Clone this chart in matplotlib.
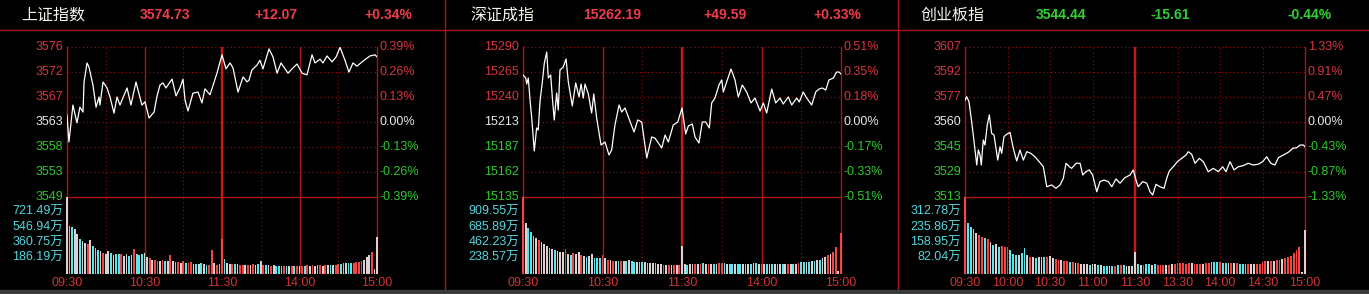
import numpy as np
import matplotlib
matplotlib.use("Agg")
import matplotlib.pyplot as plt
from matplotlib.patches import Rectangle

W, H = 1369, 294

# ---------------- data ----------------
names = ["上证指数", "深证成指", "创业板指"]
last_prices = ["3574.73", "15262.19", "3544.44"]
changes = ["+12.07", "+49.59", "-15.61"]
change_pcts = ["+0.34%", "+0.33%", "-0.44%"]
pre_close = [3562.66, 15212.60, 3560.05]
range_pct = [0.39, 0.51, 1.33]

price_labels = [
    ["3576", "3572", "3567", "3563", "3558", "3553", "3549"],
    ["15290", "15265", "15240", "15213", "15187", "15162", "15135"],
    ["3607", "3592", "3577", "3560", "3545", "3529", "3513"],
]
pct_labels = [
    ["0.39%", "0.26%", "0.13%", "0.00%", "-0.13%", "-0.26%", "-0.39%"],
    ["0.51%", "0.35%", "0.18%", "0.00%", "-0.17%", "-0.33%", "-0.51%"],
    ["1.33%", "0.91%", "0.47%", "0.00%", "-0.43%", "-0.87%", "-1.33%"],
]
vol_labels = [
    ["721.49万", "546.94万", "360.75万", "186.19万"],
    ["909.55万", "685.89万", "462.23万", "238.57万"],
    ["312.78万", "235.86万", "158.95万", "82.04万"],
]
vol_range = [(7.8, 899.9), (14.9, 1133.2), (5.1, 389.7)]

time_labels = [
    ["09:30", "10:30", "11:30", "14:00", "15:00"],
    ["09:30", "10:30", "11:30", "14:00", "15:00"],
    ["09:30", "10:00", "10:30", "11:00", "11:30", "13:30", "14:00", "14:30", "15:00"],
]
time_label_min = [
    [0, 60, 120, 180, 240],
    [0, 60, 120, 180, 240],
    [0, 30, 60, 90, 120, 150, 180, 210, 240],
]

# minutes since 09:30 (trading minutes) and index level
t1 = [0, 1.5, 4.6, 7.7, 10, 12.4, 13.2, 15.5, 17, 20.1, 22.5, 24.8, 25.5, 27.9, 31, 33.3, 36.4, 38.7, 41, 46.5,
      49.5, 53.4, 58, 60.4, 63.5, 67.4, 69.7, 72, 74.3, 76.6, 81.3, 84.4, 87.5, 89.8, 91.4, 93.7, 97.5, 101.4,
      104.5, 106.8, 110.7, 116.1, 120, 123.1, 126.2, 128.5, 132.4, 136.3, 139.4, 140.9, 143.2, 147.1, 149.4,
      151.7, 156.4, 159.5, 162.6, 165.7, 171.1, 175, 178.1, 182, 185.8, 189.7, 192, 195.9, 198.2, 201.3, 205.2,
      208.3, 211.4, 215.2, 218.3, 221.4, 224.5, 229.2, 234.6, 238.5, 240]
p1 = [3563.96, 3558.96, 3565.8, 3562.5, 3565.4, 3564.5, 3570.07, 3573.6, 3572.85, 3569.5, 3565.4, 3567.3,
      3565.8, 3570.07, 3568.96, 3567.3, 3564.3, 3567.3, 3565.8, 3568.96, 3565.8, 3570.07, 3565.8, 3566.4,
      3563.4, 3564.5, 3567.5, 3569.5, 3569.9, 3568.96, 3570.6, 3567.5, 3569.0, 3570.6, 3566.7, 3564.7, 3568.0,
      3568.2, 3566.2, 3568.8, 3567.7, 3571.7, 3575.1, 3572.5, 3573.6, 3572.7, 3568.2, 3571.0, 3570.1, 3570.4,
      3572.3, 3573.2, 3574.1, 3572.5, 3576.2, 3574.7, 3571.7, 3573.6, 3571.7, 3572.7, 3573.4, 3571.7, 3571.4,
      3575.1, 3573.6, 3574.3, 3573.6, 3574.9, 3573.8, 3574.7, 3576.5, 3574.1, 3571.9, 3573.6, 3573.0, 3573.95,
      3574.9, 3575.1, 3574.73]

t2 = [0, 2, 2.8, 4, 5.3, 6.6, 8.5, 10.3, 11.5, 12.8, 14.6, 16.1, 17.9, 19.1, 20.9, 22.4, 23.6, 25.4, 26.6, 27.9,
      30.4, 32.5, 34.2, 37.2, 39.8, 42.3, 43.8, 45.5, 46.8, 49.3, 51.8, 53.4, 55.6, 58.9, 61.9, 64.9, 66.9, 69.4,
      72.5, 74.5, 77, 79.5, 83.8, 86.6, 89.6, 93.4, 97.1, 99.6, 104.7, 107.2, 109.7, 113.4, 116.8, 120, 122.8,
      124.8, 127.8, 129.8, 132.8, 135.3, 137.9, 140.6, 142.4, 144.9, 147.9, 150, 151.2, 153.7, 157, 160, 162.5,
      165.5, 168.8, 172.1, 175.1, 178.9, 181.4, 183.9, 187.7, 190.7, 194, 196.4, 200.2, 202.8, 206.6, 208.5,
      211.5, 214.1, 217.9, 220.9, 223.4, 225.9, 228.5, 230.9, 234.2, 236.7, 238.5, 240]
p2 = [15261.2, 15258.4, 15251.9, 15258.1, 15235.4, 15216.7, 15182.6, 15206.4, 15204.3, 15233.3, 15254.0,
      15273.6, 15285.0, 15258.1, 15261.2, 15233.3, 15214.7, 15242.6, 15225.0, 15266.4, 15269.5, 15277.8,
      15254.0, 15229.2, 15253.0, 15238.5, 15251.9, 15237.4, 15251.9, 15241.6, 15221.9, 15241.6, 15216.7,
      15188.8, 15191.9, 15178.5, 15183.6, 15209.5, 15230.2, 15222.9, 15227.1, 15217.8, 15202.3, 15214.7,
      15212.6, 15175.4, 15197.1, 15196.0, 15185.7, 15199.1, 15191.9, 15209.5, 15212.6, 15227.1, 15200.2,
      15208.5, 15210.5, 15197.1, 15190.9, 15212.6, 15212.6, 15206.4, 15232.3, 15237.4, 15250.9, 15256.1,
      15243.6, 15254.0, 15267.4, 15256.1, 15238.5, 15250.9, 15243.6, 15232.3, 15237.4, 15224.0, 15232.3,
      15221.9, 15246.7, 15232.3, 15237.4, 15231.2, 15238.5, 15230.2, 15237.4, 15233.3, 15243.6, 15237.4,
      15230.2, 15243.6, 15246.7, 15247.8, 15245.7, 15256.1, 15258.1, 15264.3, 15264.3, 15262.19]

t3 = [0, 1.2, 2.8, 4.7, 6.4, 8.3, 9.4, 10.6, 11.5, 12.9, 14.1, 15.7, 17.2, 18.8, 20.5, 23.1, 24.7, 25.9, 27.5,
      29.4, 31.8, 34.1, 36.5, 38.8, 41.2, 43.6, 46.4, 49.4, 52.4, 55.3, 57.7, 61.2, 64.2, 67.1, 69.4, 71.3, 73.6,
      75.3, 78.4, 81.2, 83.1, 85.4, 87.7, 90.1, 93.0, 95.3, 98.1, 101.2, 103.6, 106.6, 109.4, 112.9, 116.5,
      118.8, 120.7, 122.3, 125.4, 128.3, 130.6, 132.5, 134.8, 137.6, 140.5, 142.4, 144.2, 147.0, 149.9, 153.0,
      156.0, 157.6, 160.0, 162.4, 165.4, 168.2, 171.7, 175.3, 178.8, 181.9, 184.2, 187.1, 189.9, 192.9, 196.4,
      199.9, 203.5, 207.0, 210.1, 213.0, 215.8, 218.8, 221.2, 224.7, 228.2, 231.3, 234.1, 236.5, 238.9, 240]
p3 = [3573.9, 3576.0, 3572.9, 3560.2, 3547.6, 3532.9, 3542.4, 3539.2, 3532.9, 3548.7, 3545.5, 3558.2, 3564.5,
      3552.9, 3551.8, 3536.0, 3544.4, 3540.3, 3550.8, 3552.3, 3553.5, 3543.4, 3535.4, 3542.4, 3536.0, 3541.3,
      3540.3, 3538.1, 3535.0, 3531.8, 3519.2, 3520.3, 3518.2, 3520.3, 3524.5, 3534.0, 3531.8, 3530.8, 3534.0,
      3534.0, 3526.6, 3528.7, 3529.8, 3526.6, 3516.0, 3522.4, 3523.4, 3522.4, 3519.2, 3524.1, 3521.4, 3524.9,
      3526.6, 3529.8, 3523.4, 3519.2, 3522.4, 3521.4, 3516.0, 3514.0, 3520.7, 3519.2, 3518.2, 3524.5, 3529.1,
      3531.8, 3535.0, 3537.1, 3539.2, 3541.3, 3539.7, 3534.0, 3537.1, 3535.0, 3528.7, 3530.8, 3528.7, 3531.8,
      3528.7, 3535.0, 3529.8, 3531.8, 3532.5, 3534.0, 3532.9, 3533.4, 3535.0, 3538.1, 3534.0, 3532.9, 3537.5,
      3539.2, 3540.9, 3543.4, 3543.8, 3545.5, 3545.5, 3544.44]

# volume (万手) every 2 trading minutes, 09:30 .. 15:00
vol_minutes = list(range(0, 241, 2))
v1 = [900, 560, 550, 520, 470, 410, 380, 360, 350, 390,
      330, 300, 275, 262, 245, 230, 268, 240, 222, 230,
      235, 225, 205, 225, 210, 220, 295, 230, 220, 225,
      240, 200, 180, 165, 155, 150, 148, 155, 150, 148,
      215, 150, 140, 135, 130, 150, 125, 120, 135, 115,
      112, 115, 120, 110, 105, 100, 280, 125, 100, 110,
      410, 170, 120, 115, 110, 112, 118, 105, 100, 100,
      98, 105, 108, 102, 110, 145, 100, 98, 100, 95,
      98, 95, 90, 92, 90, 88, 92, 90, 88, 90,
      92, 90, 95, 100, 95, 98, 95, 100, 98, 92,
      98, 102, 100, 105, 100, 115, 118, 120, 125, 128,
      130, 128, 135, 140, 148, 160, 200, 220, 260, 60,
      430]
c1 = ("wccwwcwwrw" "cccwrwwcwc" "crwwcwrccc" "wwrwrrwrcw" "rwcrwrcrrw" "cwcwcrrwrc"
      "rcwwrcwrrw" "rwrwcwrcwr" "wcccrcwrcr" "wrcrwrwcrw" "rwcwrrccwc" "crrrrwwwrw" "w")
v2 = [1128, 745, 670, 620, 560, 530, 500, 465, 440, 410,
      385, 362, 353, 340, 330, 320, 362, 290, 280, 312,
      300, 328, 280, 265, 255, 260, 294, 231, 235, 240,
      280, 230, 206, 200, 196, 192, 195, 192, 195, 190,
      200, 185, 180, 175, 178, 172, 170, 168, 162, 158,
      155, 150, 140, 135, 138, 133, 130, 135, 132, 128,
      412, 150, 135, 140, 145, 148, 145, 150, 155, 145,
      148, 150, 145, 150, 155, 160, 158, 150, 148, 145,
      150, 145, 148, 150, 145, 148, 150, 155, 158, 150,
      148, 145, 150, 148, 145, 150, 148, 145, 150, 148,
      145, 150, 148, 150, 155, 170, 181, 178, 182, 190,
      195, 200, 210, 230, 255, 280, 300, 330, 393, 40,
      608]
c2 = ("rwcccwrwww" "cwcwwwrwcr" "wwrwcwwccc" "rwrwrwcrwc" "wccwccwcww" "cwwrwrwrwr"
      "wwcwwrwrcw" "rwcwrrcwcc" "wccwcwcwcw" "rwcwcwcwcw" "rwcwrccwcw" "cwcwwrwrrw" "r")
v3 = [391, 257, 240, 226, 206, 197, 189, 181, 176, 160,
      147, 150, 135, 140, 138, 137, 121, 102, 98, 96,
      105, 130, 95, 88, 86, 82, 85, 86, 88, 88,
      90, 82, 76, 72, 70, 68, 65, 62, 60, 57,
      54, 51, 52, 50, 46, 50, 49, 46, 44, 42,
      41, 42, 41, 42, 44, 46, 45, 42, 41, 43,
      113, 50, 48, 46, 50, 50, 48, 50, 46, 45,
      46, 48, 46, 50, 51, 54, 54, 54, 52, 54,
      54, 52, 50, 51, 50, 55, 57, 60, 62, 60,
      62, 57, 57, 55, 54, 54, 54, 52, 51, 50,
      50, 51, 50, 50, 52, 60, 66, 67, 66, 68,
      71, 72, 74, 80, 85, 92, 105, 120, 138, 12,
      223]
c3 = ("rcccwrrcrw" "cwcrrrcccw" "ccwrwcwwcr" "wwrrwrrcrw" "rwwwcwwcwc" "cwcrcrcwww"
      "wcwrccwcrr" "rwrwrrrrrr" "wrrrwrrccc" "rccwrwrccc" "rwwrrrrwrw" "rrwrrrrrrw" "w")

series_t = [t1, t2, t3]
series_p = [p1, p2, p3]
series_v = [v1, v2, v3]
series_c = [c1, c2, c3]

# ---------------- layout / style ----------------
panel_lr = [(67, 377), (523, 841), (965, 1305)]
header_pos = [(21, 165, 276, 388), (470, 612, 725, 837), (921, 1061, 1170, 1310)]
solid_min = [[60, 180], [60, 180], []]
dotted_min = [[30, 90, 150, 210], [30, 90, 150, 210], [30, 60, 90, 150, 180, 210]]

RED_TXT = '#d8343e'
GREEN_TXT = '#2fc82f'
WHITE_TXT = '#e8e8e8'
HDR_RED = '#f03c4a'
HDR_GREEN = '#30d030'
GRID = '#9a0c0c'
VOLC = '#52d6de'
TIMEC = '#d03434'
bar_colors = {'r': '#f04646', 'c': '#5ae6ea', 'w': '#ddd2d2'}
NUMFONT = ['Liberation Sans', 'Noto Sans CJK SC']

fig = plt.figure(figsize=(W / 100, H / 100), dpi=100, facecolor='black')


def fx(px):
    return px / W


def fy(py):
    return 1 - py / H


# background decorations
bg = fig.add_axes([0, 0, 1, 1])
bg.set_xlim(0, W)
bg.set_ylim(H, 0)
bg.axis('off')
bg.axhline(29.5, color='#a81616', lw=1.0)
for sx in (444.5, 897.5):
    bg.axvline(sx, color='#a81616', lw=1.0)
bg.add_patch(Rectangle((0, 290), W, 4, color='#3a3a3a', zorder=5))

for i in range(3):
    L, R = panel_lr[i]
    axp = fig.add_axes([fx(L), fy(197), fx(R - L), 150 / H])
    axv = fig.add_axes([fx(L), fy(273), fx(R - L), 76 / H])
    lo = pre_close[i] * (1 - range_pct[i] / 100)
    hi = pre_close[i] * (1 + range_pct[i] / 100)
    for ax in (axp, axv):
        ax.set_facecolor('none')
        ax.set_xlim(0, 240)
        ax.set_xticks([])
        ax.set_yticks([])
        for s in ('left', 'right'):
            ax.spines[s].set_color('#a81616')
            ax.spines[s].set_linewidth(1.0)
        ax.spines['top'].set_visible(False)
    axp.spines['bottom'].set_color('#a81616')
    axp.spines['bottom'].set_linewidth(1.0)
    axv.spines['bottom'].set_visible(False)
    axp.set_ylim(lo, hi)
    vlo, vhi = vol_range[i]
    axv.set_ylim(vlo, vhi)

    levels = np.linspace(hi, lo, 7)
    for k, lev in enumerate(levels):
        if k < 6:
            axp.axhline(lev, color=GRID, lw=0.8, ls=(0, (1, 2.5)), clip_on=False, zorder=1)
        col = RED_TXT if k < 3 else (WHITE_TXT if k == 3 else GREEN_TXT)
        axp.annotate(price_labels[i][k], xy=(0, lev), xycoords=('axes fraction', 'data'),
                     xytext=(-4, 0), textcoords='offset pixels', ha='right', va='center',
                     fontsize=9, color=col, family=NUMFONT, annotation_clip=False)
        axp.annotate(pct_labels[i][k], xy=(1, lev), xycoords=('axes fraction', 'data'),
                     xytext=(3, 0), textcoords='offset pixels', ha='left', va='center',
                     fontsize=9, color=col, family=NUMFONT, annotation_clip=False)

    for k in range(4):
        frac = (4 - k) / 5
        axv.annotate(vol_labels[i][k], xy=(0, frac), xycoords='axes fraction',
                     xytext=(-4, 0), textcoords='offset pixels', ha='right', va='center',
                     fontsize=9, color=VOLC, family=NUMFONT, annotation_clip=False)

    for ax in (axp, axv):
        for m in dotted_min[i]:
            ax.axvline(m, color=GRID, lw=0.8, ls=(0, (1, 2.5)), zorder=1)
        for m in solid_min[i]:
            ax.axvline(m, color='#a81414', lw=1.0, zorder=1)
        ax.axvline(120, color='#c81818', lw=1.7, zorder=1)

    axp.plot(series_t[i], series_p[i], color='white', lw=0.9, zorder=3)

    cols = [bar_colors[ch] for ch in series_c[i]]
    axv.bar(vol_minutes, series_v[i], width=1.3, color=cols, bottom=0, zorder=3,
            linewidth=0, clip_on=False)
    axv.set_ylim(vlo, vhi)

    for m, lab in zip(time_label_min[i], time_labels[i]):
        axv.annotate(lab, xy=(m, 0), xycoords=('data', 'axes fraction'),
                     xytext=(0, -10), textcoords='offset pixels', ha='center', va='center',
                     fontsize=9, color=TIMEC, family=NUMFONT, annotation_clip=False)

    # header
    hx = header_pos[i]
    up = not changes[i].startswith('-')
    hcol = HDR_RED if up else HDR_GREEN
    fig.text(fx(hx[0]), fy(15), names[i], ha='left', va='center', fontsize=11.5,
             family=['Noto Sans CJK SC'], color='#f4f4e8')
    for x, s in zip(hx[1:], (last_prices[i], changes[i], change_pcts[i])):
        fig.text(fx(x), fy(15), s, ha='center', va='center', fontsize=10, fontweight='bold',
                 family=NUMFONT, color=hcol)

fig.savefig('out.png', dpi=100, facecolor='black')
